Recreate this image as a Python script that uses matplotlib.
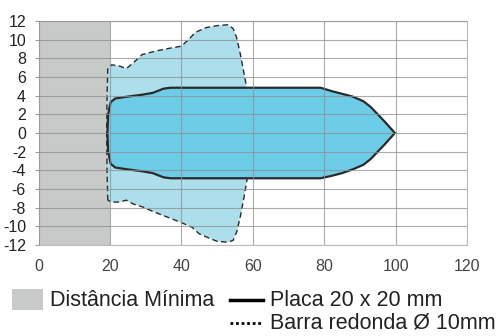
import matplotlib
matplotlib.use("Agg")
import matplotlib.pyplot as plt
from matplotlib.patches import Rectangle, Polygon
from matplotlib.lines import Line2D

plt.rcParams['font.family'] = ['Liberation Sans', 'DejaVu Sans']
plt.rcParams['axes.unicode_minus'] = False

# Data
min_dist = (0, 20)
placa_x = [19.3, 19.5, 20.2, 21.5, 25, 29, 32, 35, 37, 79, 82, 85, 88, 91, 93, 95, 97, 99.8,
           97, 95, 93, 91, 88, 85, 82, 79, 37, 35, 32, 29, 25, 21.5, 20.2, 19.5]
placa_y = [0, 2, 3.3, 3.7, 3.9, 4.1, 4.3, 4.75, 4.85, 4.85, 4.5, 4.2, 3.9, 3.4, 2.8, 2.0, 1.2, 0,
           -1.2, -2.0, -2.8, -3.4, -3.9, -4.3, -4.6, -4.85, -4.85, -4.75, -4.3, -4.1, -3.9, -3.7, -3.3, -2]
barra_x = [19.4, 19.2, 19.1, 19.2, 19.4, 20.5, 22.5, 24.6, 26.5, 29, 33, 37, 40, 42, 44, 47, 50, 53,
           54.5, 55.5, 56.5, 57.5, 58.5, 59.4, 59.8, 59.9, 59.6, 59.1, 58.4, 57.5, 56.5, 55.5, 54.5,
           53, 50, 48, 45, 43, 40, 36, 32, 29, 26.5, 24.6, 22.5, 20.5]
barra_y = [-7.2, -4, 0, 4, 7.0, 7.3, 7.2, 6.9, 7.5, 8.4, 8.8, 9.1, 9.3, 10.0, 10.8, 11.3, 11.5, 11.6,
           11.2, 10.2, 8.5, 6.5, 4.5, 2.5, 0.8, 0, -1.5, -3, -5, -7, -9, -10.6, -11.5,
           -11.7, -11.6, -11.3, -10.8, -10.1, -9.6, -9.0, -8.4, -7.9, -7.6, -7.2, -7.4, -7.4]
x_ticks = [0, 20, 40, 60, 80, 100, 120]
y_ticks = [-12, -10, -8, -6, -4, -2, 0, 2, 4, 6, 8, 10, 12]
labels = ["Distância Mínima", "Placa 20 x 20 mm", "Barra redonda Ø 10mm"]

fig = plt.figure(figsize=(4.97, 3.36), dpi=100)
ax = fig.add_axes([38.5/497, 1-245/336, (467-38.5)/497, 224/336])
ax.set_xlim(0, 120)
ax.set_ylim(-12, 12)

ax.axvspan(min_dist[0], min_dist[1], color='#c8c9c9', zorder=1, lw=0)
ax.add_patch(Polygon(list(zip(barra_x, barra_y)), closed=True, facecolor='#acdeec',
                     edgecolor='#2a2a2a', lw=1.0, linestyle=(0, (4, 2.5)), zorder=2))
ax.add_patch(Polygon(list(zip(placa_x, placa_y)), closed=True, facecolor='#6dcde8',
                     edgecolor='#2a2a2a', lw=1.6, zorder=3))

for yv in y_ticks:
    ax.axhline(yv, color='#8f8f8f', lw=0.8, alpha=0.75, zorder=4)
for xv in x_ticks:
    ax.axvline(xv, color='#8f8f8f', lw=0.8, alpha=0.75, zorder=4)

ax.set_xticks(x_ticks)
ax.set_yticks(y_ticks)
ax.tick_params(axis='x', length=0, pad=10, labelsize=11.5, labelcolor='#444444')
ax.tick_params(axis='y', length=3, width=0.8, color='#999999', pad=6, labelsize=11.5, labelcolor='#222222')
for s in ax.spines.values():
    s.set_color('#bbbbbb')
    s.set_linewidth(0.8)

# Legend (manual)
fig.patches.append(Rectangle((12/497, 1-310/336), 31/497, 21/336, transform=fig.transFigure,
                             facecolor='#c8c9c9', edgecolor='none'))
fig.text(50/497, 1-301/336, labels[0], fontsize=15.5, va='center', ha='left', color='#222222')
fig.lines.append(Line2D([230/497, 263/497], [1-300/336, 1-300/336], transform=fig.transFigure,
                        color='black', lw=2.5))
fig.text(270/497, 1-301/336, labels[1], fontsize=15.5, va='center', ha='left', color='#222222')
fig.lines.append(Line2D([230/497, 263/497], [1-323/336, 1-323/336], transform=fig.transFigure,
                        color='black', lw=2, linestyle=(0, (1, 1))))
fig.text(270/497, 1-323/336, labels[2], fontsize=15.5, va='center', ha='left', color='#222222')

fig.savefig("out.png", dpi=100)
